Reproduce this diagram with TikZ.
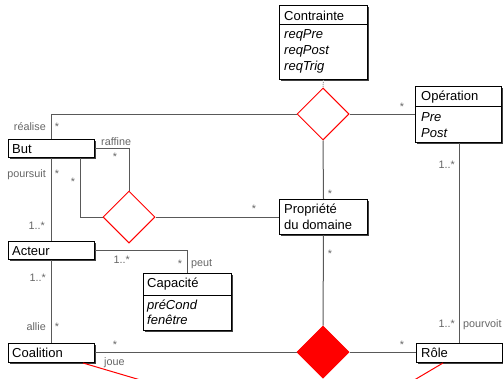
\documentclass[tikz,border=0pt]{standalone}
\usepackage{fontspec}
\setmainfont{Liberation Sans}
\usetikzlibrary{shapes.geometric,shadows}

\tikzset{
  cls/.style={draw=black, line width=1pt, fill=white, inner sep=0pt, anchor=north west,
    drop shadow={shadow xshift=1pt, shadow yshift=-1pt, fill=black!75, opacity=1}},
  ctext/.style={anchor=base west, inner sep=0pt, font=\fontsize{13}{16}\selectfont},
  attr/.style={ctext, font=\fontsize{13}{16}\selectfont\itshape},
  lbl/.style={anchor=base, inner sep=0pt, text=black!60, font=\fontsize{10.8}{12}\selectfont},
  assoc/.style={draw=black!65, line width=1pt},
  dashlink/.style={draw=black!40, line width=1pt, dash pattern=on 1pt off 1pt},
  redlink/.style={draw=red, line width=1pt},
  rel/.style={diamond, draw=red, line width=1pt, fill=white, minimum width=52pt,
    minimum height=52pt, inner sep=0pt},
  relfull/.style={rel, fill=red},
  divider/.style={draw=black, line width=1pt},
}

\begin{document}
\begin{tikzpicture}[x=1pt,y=-1pt]
\useasboundingbox (0,0) rectangle (503,378);

% classes
\node[cls, minimum width=88, minimum height=74] (contrainte) at (279,5) {};
\draw[divider] ([yshift=-19pt]contrainte.north west) -- ([yshift=-19pt]contrainte.north east);
\node[ctext] (contrainteName) at (284,20) {Contrainte};
\node[attr] (reqPre) at (284,38) {reqPre};
\node[attr] (reqPost) at (284,54) {reqPost};
\node[attr] (reqTrig) at (284,70) {reqTrig};

\node[cls, minimum width=86, minimum height=56] (operation) at (415,86) {};
\draw[divider] ([yshift=-20pt]operation.north west) -- ([yshift=-20pt]operation.north east);
\node[ctext] (operationName) at (421,100) {Opération};
\node[attr] (pre) at (421,121.5) {Pre};
\node[attr] (post) at (421,137) {Post};

\node[cls, minimum width=86, minimum height=18] (but) at (8,139) {};
\node[ctext] (butName) at (12,153) {But};

\node[cls, minimum width=86, minimum height=18] (acteur) at (8,241) {};
\node[ctext] (acteurName) at (12,255) {Acteur};

\node[cls, minimum width=86, minimum height=19] (coalition) at (8,343) {};
\node[ctext] (coalitionName) at (12,357) {Coalition};

\node[cls, minimum width=88, minimum height=57] (capacite) at (143,273) {};
\draw[divider] ([yshift=-22pt]capacite.north west) -- ([yshift=-22pt]capacite.north east);
\node[ctext] (capaciteName) at (147,287) {Capacité};
\node[attr] (precond) at (147,309) {préCond};
\node[attr] (fenetre) at (147,324) {fenêtre};

\node[cls, minimum width=88, minimum height=35] (prop) at (279,199) {};
\node[ctext] (propName) at (284,213) {Propriété};
\node[ctext] (propName2) at (284,229) {du domaine};

\node[cls, minimum width=86, minimum height=19] (role) at (416,343) {};
\node[ctext] (roleName) at (421,357) {Rôle};

% relations
\node[rel] (dTop) at (323,114) {};
\node[rel] (dRaf) at (129,217) {};
\node[relfull] (dJoue) at (323,352) {};
\coordinate (below) at (323,434);

% associations
\draw[assoc] ([xshift=43pt]but.north west) |- (dTop.west);
\draw[assoc] (dTop.east) -- (dTop.east -| operation.west);
\draw[dashlink] (contrainte.south) -- (dTop.north);
\draw[assoc] (dTop.south) -- (prop.north);
\draw[assoc] (but.east) -| (dRaf.north);
\draw[assoc] ([xshift=72pt]but.south west) |- (dRaf.west);
\draw[assoc] (dRaf.east) -- (dRaf.east -| prop.west);
\draw[assoc] ([xshift=43pt]but.south west) -- ([xshift=43pt]acteur.north west);
\draw[assoc] (acteur.east) -| (capacite.north);
\draw[assoc] ([xshift=43pt]acteur.south west) -- ([xshift=43pt]coalition.north west);
\draw[assoc] (dJoue.west -| coalition.east) -- (dJoue.west);
\draw[assoc] (dJoue.east) -- (dJoue.east -| role.west);
\draw[assoc] (prop.south) -- (dJoue.north);
\draw[assoc] ([xshift=44pt]operation.south west) -- ([xshift=43pt]role.north west);

\begin{scope}
  \clip (0,0) rectangle (503,378);
  \draw[redlink] ([xshift=75pt]coalition.south west) -- (below);
  \draw[redlink] ([xshift=27pt]role.south west) -- (below);
\end{scope}

% role names and multiplicities
\node[lbl, anchor=base east] (lRealise) at (46,130) {réalise};
\node[lbl] (mRealise) at (57,130) {*};
\node[lbl, anchor=base west] (lRaffine) at (101,145) {raffine};
\node[lbl] (mRaffine) at (115,160) {*};
\node[lbl, anchor=base east] (lPoursuit) at (46,177) {poursuit};
\node[lbl] (mPoursuit) at (57,177) {*};
\node[lbl] (mRafBut) at (73,185) {*};
\node[lbl, anchor=base east] (mPoursuitAct) at (45,229) {1..*};
\node[lbl] (mRafProp) at (254,212) {*};
\node[lbl] (mTopProp) at (330,197) {*};
\node[lbl] (mPropJoue) at (330,257) {*};
\node[lbl] (mOper) at (402,110) {*};
\node[lbl, anchor=base east] (mOperRole) at (455,168) {1..*};
\node[lbl, anchor=base west] (lPourvoit) at (463,327) {pourvoit};
\node[lbl, anchor=base east] (mPourvoit) at (455,327) {1..*};
\node[lbl] (mRole) at (402,348) {*};
\node[lbl] (mCoal) at (115,348) {*};
\node[lbl, anchor=base west] (lJoue) at (104,365) {joue};
\node[lbl, anchor=base east] (mPeutAct) at (130,263) {1..*};
\node[lbl] (mPeutCap) at (180,267) {*};
\node[lbl, anchor=base west] (lPeut) at (191,266) {peut};
\node[lbl, anchor=base east] (mAllieAct) at (46,281) {1..*};
\node[lbl, anchor=base east] (lAllie) at (46,330) {allie};
\node[lbl] (mAllie) at (57,330) {*};
\end{tikzpicture}
\end{document}
